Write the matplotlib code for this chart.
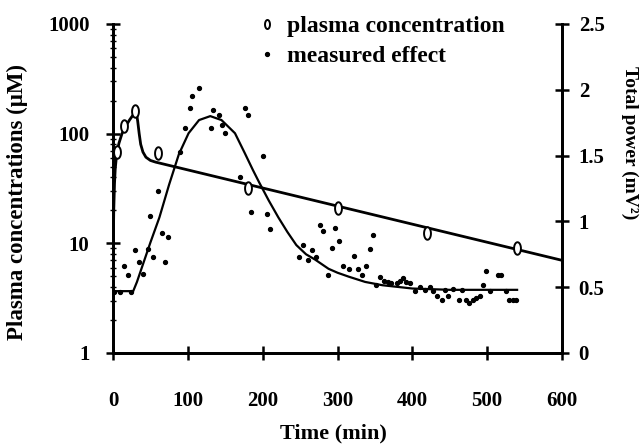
import matplotlib
matplotlib.use("Agg")
import matplotlib.pyplot as plt
import numpy as np
from matplotlib.path import Path
from matplotlib.lines import Line2D
from matplotlib.ticker import LogLocator, NullFormatter

plt.rcParams["font.family"] = ["Liberation Serif", "DejaVu Serif"]
plt.rcParams["font.weight"] = "bold"
plt.rcParams["axes.labelweight"] = "bold"

# plasma concentration samples (min, uM)
conc_time = [5, 15, 30, 60, 180, 300, 420, 540]
conc_value = [68, 118, 160, 66, 32, 21, 12.5, 9.0]

# fitted plasma curve (min, uM)
conc_fit_time = [0, 1, 2, 3, 5, 8, 12, 16, 22, 28, 31, 33, 35, 37, 40, 44, 50, 57, 600]
conc_fit_value = [6, 20, 35, 48, 66, 82, 100, 114, 133, 152, 160, 130, 100, 80, 68, 61, 57, 55, 7.0]

# measured effect (min, mV^2)
eff_time = [2, 9, 15, 20, 24, 30, 35, 40, 47, 50, 54, 60, 66, 70, 74, 90, 96, 103, 106, 115,
            131, 134, 141, 145, 150, 170, 176, 181, 185, 201, 206, 210, 249, 254, 261, 266,
            271, 276, 281, 287, 292, 296, 302, 308, 315, 322, 328, 333, 338, 343, 348, 352,
            357, 362, 368, 372, 379, 383, 388, 392, 397, 403, 410, 417, 423, 428, 433, 439,
            443, 447, 454, 463, 467, 472, 476, 481, 485, 490, 494, 498, 504, 514, 518, 525,
            529, 534, 538]
eff_value = [0.46, 0.46, 0.66, 0.59, 0.46, 0.78, 0.69, 0.60, 0.79, 1.04, 0.73, 1.23, 0.91, 0.69,
             0.88, 1.53, 1.71, 1.86, 1.95, 2.01, 1.71, 1.85, 1.81, 1.73, 1.67, 1.34, 1.86, 1.81,
             1.07, 1.50, 1.06, 0.94, 0.73, 0.82, 0.71, 0.78, 0.73, 0.97, 0.93, 0.59, 0.80, 0.95,
             0.85, 0.66, 0.64, 0.74, 0.64, 0.59, 0.66, 0.79, 0.90, 0.52, 0.58, 0.55, 0.54, 0.53,
             0.53, 0.55, 0.57, 0.54, 0.53, 0.47, 0.50, 0.48, 0.50, 0.47, 0.43, 0.40, 0.48, 0.43,
             0.49, 0.40, 0.48, 0.40, 0.38, 0.40, 0.415, 0.43, 0.52, 0.62, 0.47, 0.59, 0.59, 0.47,
             0.40, 0.40, 0.40]

# fitted effect curve (min, mV^2)
eff_fit_time = [0, 27, 32, 38, 50, 62, 75, 88, 101, 115, 130, 145, 163, 176, 187, 195, 208,
                221, 233, 245, 258, 270, 288, 300, 315, 337, 360, 400, 450, 540]
eff_fit_value = [0.47, 0.47, 0.54, 0.64, 0.84, 1.03, 1.28, 1.51, 1.67, 1.77, 1.80, 1.77, 1.67,
                 1.52, 1.39, 1.30, 1.16, 1.03, 0.92, 0.82, 0.75, 0.71, 0.64, 0.61, 0.58, 0.54,
                 0.515, 0.49, 0.48, 0.48]

# tall open ellipse used for the plasma samples
theta = np.linspace(0, 2 * np.pi, 60)
ellipse = Path(np.column_stack([0.55 * np.cos(theta), np.sin(theta)]), closed=True)

fig = plt.figure(figsize=(6.44, 4.46), dpi=100)
ax = fig.add_axes([113 / 644, 1 - 353 / 446, 449 / 644, 329 / 446])
ax2 = ax.twinx()

ax.plot(conc_fit_time, conc_fit_value, color="black", lw=2.0, solid_capstyle="butt")
ax.plot(conc_time, conc_value, linestyle="none", marker=ellipse, ms=9,
        mfc="white", mec="black", mew=1.4)

ax2.plot(eff_fit_time, eff_fit_value, color="black", lw=1.6)
ax2.plot(eff_time, eff_value, linestyle="none", marker="o", ms=2.8,
         mfc="black", mec="black")

ax.set_xlim(0, 600)
ax.set_yscale("log")
ax.set_ylim(1, 1000)
ax2.set_ylim(0, 2.5)

ax.set_xticks([0, 100, 200, 300, 400, 500, 600])
ax.set_yticks([1, 10, 100, 1000])
ax.set_yticklabels(["1", "10", "100", "1000"])
ax.yaxis.set_minor_locator(LogLocator(base=10, subs=np.arange(2, 10)))
ax.yaxis.set_minor_formatter(NullFormatter())
ax2.set_yticks([0, 0.5, 1, 1.5, 2, 2.5])
ax2.set_yticklabels(["0", "0.5", "1", "1.5", "2", "2.5"])

for a in (ax, ax2):
    a.spines["top"].set_visible(False)
    for s in ("left", "right", "bottom"):
        a.spines[s].set_linewidth(2.0)
ax.tick_params(axis="both", which="major", direction="inout", length=10, width=1.8,
               labelsize=15)
ax.tick_params(axis="y", which="major", pad=12)
ax.tick_params(axis="x", which="major", pad=22)
ax.tick_params(axis="y", which="minor", direction="inout", length=4, width=1.0)
ax2.tick_params(axis="y", direction="inout", length=10, width=1.8, labelsize=15, pad=7)

ax.set_xlabel("Time (min)", fontsize=16)
ax.xaxis.set_label_coords(0.49, -0.215)
ax.set_ylabel("Plasma concentrations (\u03bcM)", fontsize=16.5)
ax.yaxis.set_label_coords(-0.19, 0.46)
ax2.set_ylabel("Total power (mV\u00b2)", fontsize=14, rotation=270, va="center")
ax2.yaxis.set_label_coords(1.15, 0.64)

handles = [Line2D([], [], linestyle="none", marker=ellipse, ms=6.5, mfc="white",
                  mec="black", mew=1.4),
           Line2D([], [], linestyle="none", marker="o", ms=2.8, mfc="black", mec="black")]
ax2.legend(handles, ["plasma concentration", "measured effect"], loc="upper left",
           bbox_to_anchor=(0.325, 1.025), frameon=False, prop={"size": 17, "weight": "bold"},
           handlelength=0.7, handletextpad=0.5, labelspacing=0.35, borderpad=0,
           borderaxespad=0)

fig.savefig("out.png", dpi=100)
